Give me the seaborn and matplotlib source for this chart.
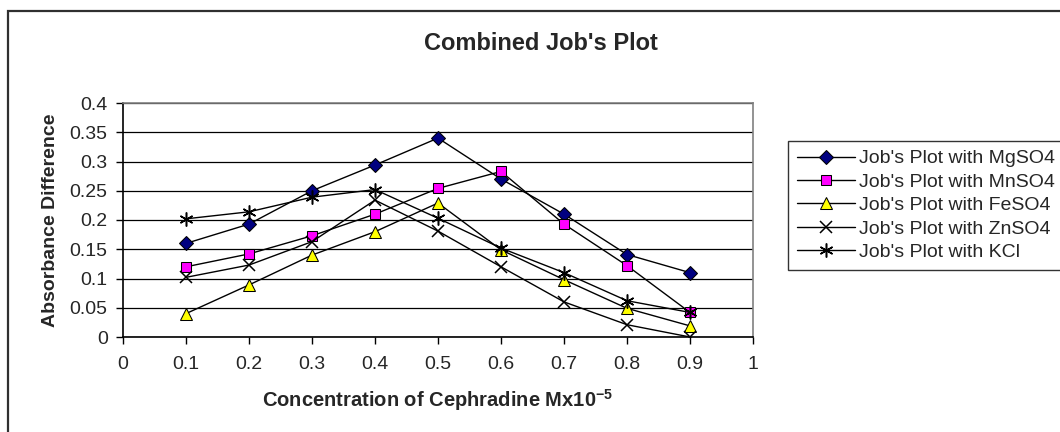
import numpy as np
import pandas as pd
import matplotlib
matplotlib.use('Agg')
import matplotlib.pyplot as plt
from matplotlib.patches import Rectangle
import seaborn as sns

# --- Data ---
conc = [0.1, 0.2, 0.3, 0.4, 0.5, 0.6, 0.7, 0.8, 0.9]
mgso4 = [0.16, 0.193, 0.25, 0.294, 0.34, 0.27, 0.21, 0.141, 0.11]
mnso4 = [0.12, 0.142, 0.173, 0.21, 0.254, 0.283, 0.193, 0.122, 0.042]
feso4 = [0.04, 0.089, 0.14, 0.18, 0.229, 0.149, 0.098, 0.049, 0.019]
znso4 = [0.102, 0.123, 0.163, 0.234, 0.181, 0.12, 0.06, 0.021, 0.0]
kcl = [0.202, 0.214, 0.239, 0.252, 0.203, 0.152, 0.11, 0.062, 0.042]

series_names = ["Job's Plot with MgSO4", "Job's Plot with MnSO4", "Job's Plot with FeSO4",
                "Job's Plot with ZnSO4", "Job's Plot with KCl"]
series_values = [mgso4, mnso4, feso4, znso4, kcl]

x_ticks = [0, 0.1, 0.2, 0.3, 0.4, 0.5, 0.6, 0.7, 0.8, 0.9, 1]
y_ticks = [0, 0.05, 0.1, 0.15, 0.2, 0.25, 0.3, 0.35, 0.4]

# --- Style ---
sns.set_theme(style='white')
plt.rcParams['font.family'] = ['Liberation Sans', 'DejaVu Sans']
plt.rcParams['mathtext.fontset'] = 'custom'
plt.rcParams['mathtext.rm'] = 'Liberation Sans'
plt.rcParams['mathtext.bf'] = 'Liberation Sans:bold'
plt.rcParams['mathtext.default'] = 'bf'

marker_styles = {
    "Job's Plot with MgSO4": dict(marker='D', markerfacecolor='#000080', markeredgecolor='black', markersize=7),
    "Job's Plot with MnSO4": dict(marker='s', markerfacecolor='#FF00FF', markeredgecolor='black', markersize=7.5),
    "Job's Plot with FeSO4": dict(marker='^', markerfacecolor='#FFFF00', markeredgecolor='black', markersize=9),
    "Job's Plot with ZnSO4": dict(marker='x', markerfacecolor='black', markeredgecolor='black', markersize=9,
                                  markeredgewidth=1.1),
    "Job's Plot with KCl": dict(marker=(6, 2, 0), markerfacecolor='black', markeredgecolor='black', markersize=10,
                                markeredgewidth=1.1),
}

df = pd.DataFrame({
    'conc': np.tile(conc, len(series_names)),
    'value': np.concatenate(series_values),
    'series': np.repeat(series_names, len(conc)),
})

fig = plt.figure(figsize=(10.6, 4.32), dpi=100)
ax = fig.add_axes([123 / 1060, 1 - 337 / 432, 630 / 1060, 234 / 432])

# outer chart border (runs off the right and bottom edges)
fig.patches.append(Rectangle((8 / 1060, -0.2), 1.2, 1.2 - 11 / 432, transform=fig.transFigure,
                             fill=False, edgecolor='#303030', linewidth=1.6, zorder=0))

for name in series_names:
    sub = df[df['series'] == name]
    sns.lineplot(data=sub, x='conc', y='value', ax=ax, color='black', linewidth=1.0,
                 label=name, **marker_styles[name])

ax.set_xlim(0, 1)
ax.set_ylim(0, 0.4)
ax.set_xticks(x_ticks)
ax.set_xticklabels([f'{t:g}' for t in x_ticks])
ax.set_yticks(y_ticks)
ax.set_yticklabels([f'{t:g}' for t in y_ticks])
ax.tick_params(axis='both', which='major', direction='out', length=5, width=1, color='black',
               labelsize=14, bottom=True, left=True, pad=6)
ax.tick_params(axis='x', pad=9)

ax.yaxis.grid(True, color='black', linewidth=0.9)
ax.xaxis.grid(False)
ax.set_axisbelow(True)

for side in ['left', 'bottom']:
    ax.spines[side].set_color('black')
    ax.spines[side].set_linewidth(1.2)
for side in ['top', 'right']:
    ax.spines[side].set_color('#808080')
    ax.spines[side].set_linewidth(1.2)

ax.set_xlabel(r'Concentration of Cephradine Mx10$^{\mathregular{-5}}$', fontsize=14.5, fontweight='bold',
              labelpad=10)
ax.set_ylabel('Absorbance Difference', fontsize=14, fontweight='bold', labelpad=8)
fig.text(541 / 1060, 1 - 43 / 432, "Combined Job's Plot", fontsize=17, fontweight='bold',
         ha='center', va='center')

leg = ax.legend(loc='upper left', bbox_to_anchor=(788 / 1060, 1 - 141 / 432), bbox_transform=fig.transFigure,
                fontsize=14, frameon=True, fancybox=False, handlelength=3.0, handletextpad=0.2,
                labelspacing=0.3, borderpad=0.45, borderaxespad=0)
leg.get_frame().set_edgecolor('black')
leg.get_frame().set_linewidth(1.0)

fig.savefig('out.png', dpi=100)
